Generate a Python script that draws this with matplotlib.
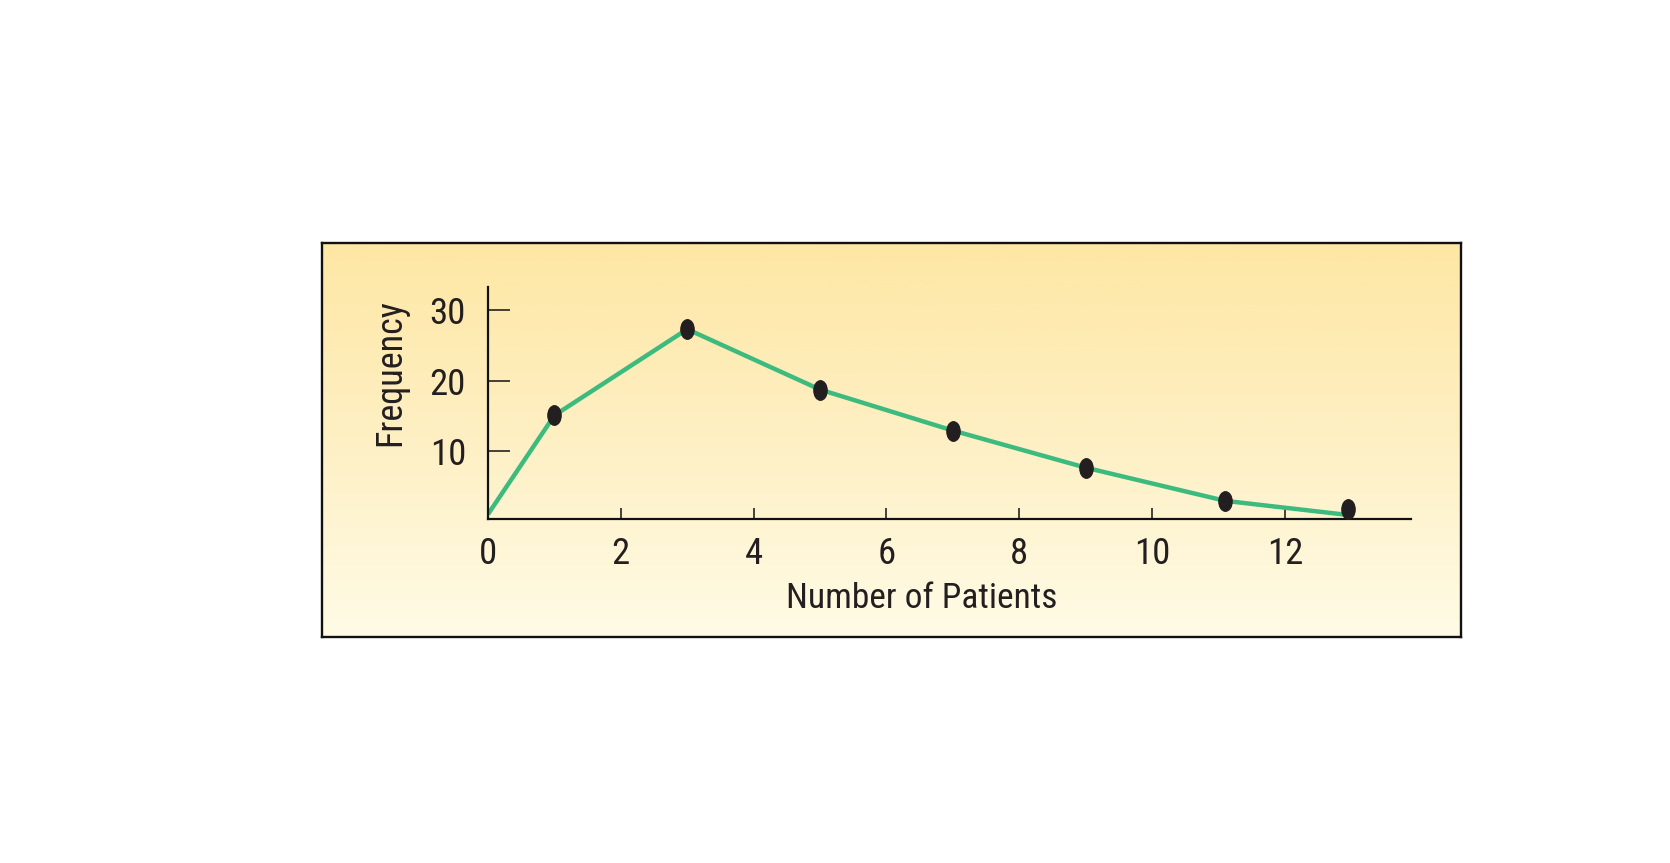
import numpy as np
import matplotlib
matplotlib.use("Agg")
import matplotlib.pyplot as plt
from matplotlib.path import Path
from matplotlib.colors import LinearSegmentedColormap

# ---- data ----
patients = [1, 3, 5, 7, 9, 11.1, 12.95]
frequency = [15.1, 27.3, 18.75, 12.95, 7.7, 3.0, 1.9]
line_x = [0, 1, 3, 5, 7, 9, 11.1, 12.95]
line_y = [1.1, 15.1, 27.3, 18.75, 12.95, 7.7, 3.0, 1.0]
xticks = [0, 2, 4, 6, 8, 10, 12]
yticks = [10, 20, 30]
xlabel = "Number of Patients"
ylabel = "Frequency"

FONT = ['Liberation Sans Narrow', 'DejaVu Sans Condensed', 'Roboto Condensed', 'Liberation Sans', 'DejaVu Sans']
plt.rcParams['font.family'] = FONT

W, H = 1670, 863
fig = plt.figure(figsize=(W / 100, H / 100), dpi=100)
fig.patch.set_facecolor('white')

def fx(px):
    return px / W

def fy(py):
    return 1 - py / H

# ---- background box with gradient ----
bl, br, bt, bb = 321.6, 1461.0, 242.8, 636.9
bg = fig.add_axes([fx(bl), fy(bb), fx(br - bl), (bb - bt) / H])
cmap = LinearSegmentedColormap.from_list('bg', ['#FEE7A4', '#FEF0C4', '#FFFBE6'])
grad = np.linspace(0, 1, 256).reshape(-1, 1)
bg.imshow(grad, aspect='auto', cmap=cmap, extent=[0, 1, 1, 0])
bg.set_xlim(0, 1)
bg.set_ylim(1, 0)
bg.set_xticks([])
bg.set_yticks([])
for s in bg.spines.values():
    s.set_linewidth(1.7)
    s.set_color('#111111')

# ---- main axes ----
al, ar, at, ab = 488.0, 1411.0, 287.5, 518.7
ax = fig.add_axes([fx(al), fy(ab), fx(ar - al), (ab - at) / H])
ax.patch.set_alpha(0)
ax.set_xlim(0, 13.9)
ax.set_ylim(0.47, 33.2)

ax.plot(line_x, line_y, color='#3DBB7E', lw=3.2, solid_capstyle='butt', zorder=2)

circ = Path.unit_circle()
ell = Path(circ.vertices * np.array([0.68, 1.0]), circ.codes)
ax.plot(patients, frequency, ls='none', marker=ell, markersize=14,
        color='#231F20', zorder=3)

for side in ['top', 'right']:
    ax.spines[side].set_visible(False)
for side in ['left', 'bottom']:
    ax.spines[side].set_linewidth(1.6)
    ax.spines[side].set_color('#111111')

ax.set_xticks(xticks)
ax.set_yticks(yticks)
ax.set_xticklabels([str(v) for v in xticks])
ax.set_yticklabels([str(v) for v in yticks])
ax.tick_params(axis='y', direction='in', length=15.6, width=1.1, pad=15.8,
               labelsize=26.5, colors='#111111', labelcolor='#231F20')
ax.tick_params(axis='x', direction='in', length=8, width=1.1, pad=12.5,
               labelsize=26.5, colors='#111111', labelcolor='#231F20')

fig.text(fx(922), fy(608), xlabel, ha='center', va='baseline',
         fontsize=25.5, color='#231F20')
fig.text(fx(390), fy(373), ylabel, ha='center', va='center', rotation=90,
         fontsize=26, color='#231F20')

fig.savefig('out.png', dpi=100)
